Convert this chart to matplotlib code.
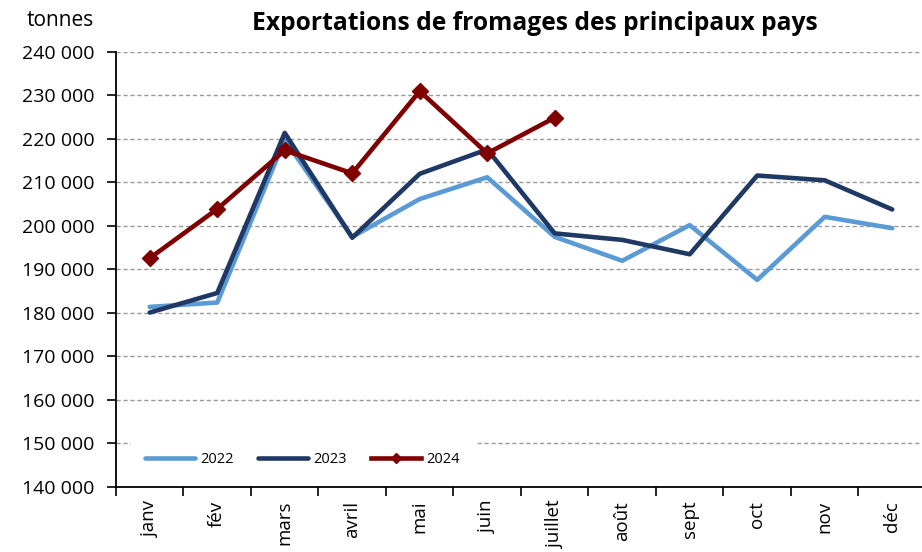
import matplotlib
matplotlib.use("Agg")
import matplotlib.pyplot as plt
import numpy as np

plt.rcParams['font.family'] = ['Open Sans', 'DejaVu Sans']

mois = ["janv", "fév", "mars", "avril", "mai", "juin", "juillet", "août", "sept", "oct", "nov", "déc"]
v2022 = [181400, 182400, 219800, 197500, 206200, 211200, 197500, 192000, 200200, 187600, 202100, 199500]
v2023 = [180100, 184600, 221400, 197300, 212000, 217600, 198300, 196800, 193500, 211600, 210500, 203800]
v2024 = [192600, 203900, 217400, 212100, 231000, 216700, 224900]
yticks = np.arange(140000, 240001, 10000)

fig = plt.figure(figsize=(9.22, 5.52), dpi=100)
ax = fig.add_axes([0.1258, 0.1178, 0.8785, 0.788])

x = np.arange(len(mois))
ax.plot(x, v2022, color="#5B9BD5", lw=3.3, label="2022", solid_capstyle="round")
ax.plot(x, v2023, color="#1F3864", lw=3.3, label="2023", solid_capstyle="round")
ax.plot(x[:len(v2024)], v2024, color="#7F0000", lw=3.3, marker="D", ms=8.5, label="2024")

ax.set_xlim(-0.5, 11.5)
ax.set_ylim(140000, 240000)
ax.set_yticks(yticks)
ax.set_yticklabels([f"{v:,}".replace(",", " ") for v in yticks], fontsize=14)
ax.yaxis.grid(True, color="#999999", linestyle=(0, (3, 2)), lw=1)
ax.set_axisbelow(True)

ax.set_xticks(x)
ax.set_xticklabels(mois, rotation=90, fontsize=13.5)
ax.tick_params(axis="x", which="major", length=0, pad=10)
ax.set_xticks(np.arange(-0.5, 12, 1), minor=True)
ax.tick_params(axis="x", which="minor", length=6.5, width=1.2, direction="out")
ax.tick_params(axis="y", length=6.5, width=1.2, direction="out", pad=9)

for s in ["top", "right"]:
    ax.spines[s].set_visible(False)
ax.spines["left"].set_linewidth(1.3)
ax.spines["bottom"].set_linewidth(1.3)

leg = ax.legend(loc="lower left", ncol=3, frameon=True, fontsize=10.5, handlelength=3.4,
                columnspacing=1.7, handletextpad=0.35, bbox_to_anchor=(0.018, 0.012),
                borderaxespad=0.0, borderpad=1.0, markerscale=0.6)
leg.get_frame().set_facecolor("white")
leg.get_frame().set_edgecolor("white")
leg.get_frame().set_alpha(1)

fig.text(0.58, 0.958, "Exportations de fromages des principaux pays", ha="center", va="center",
         fontsize=17.7, fontweight="bold")
fig.text(0.065, 0.963, "tonnes", ha="center", va="center", fontsize=15)

fig.savefig("out.png", dpi=100)
